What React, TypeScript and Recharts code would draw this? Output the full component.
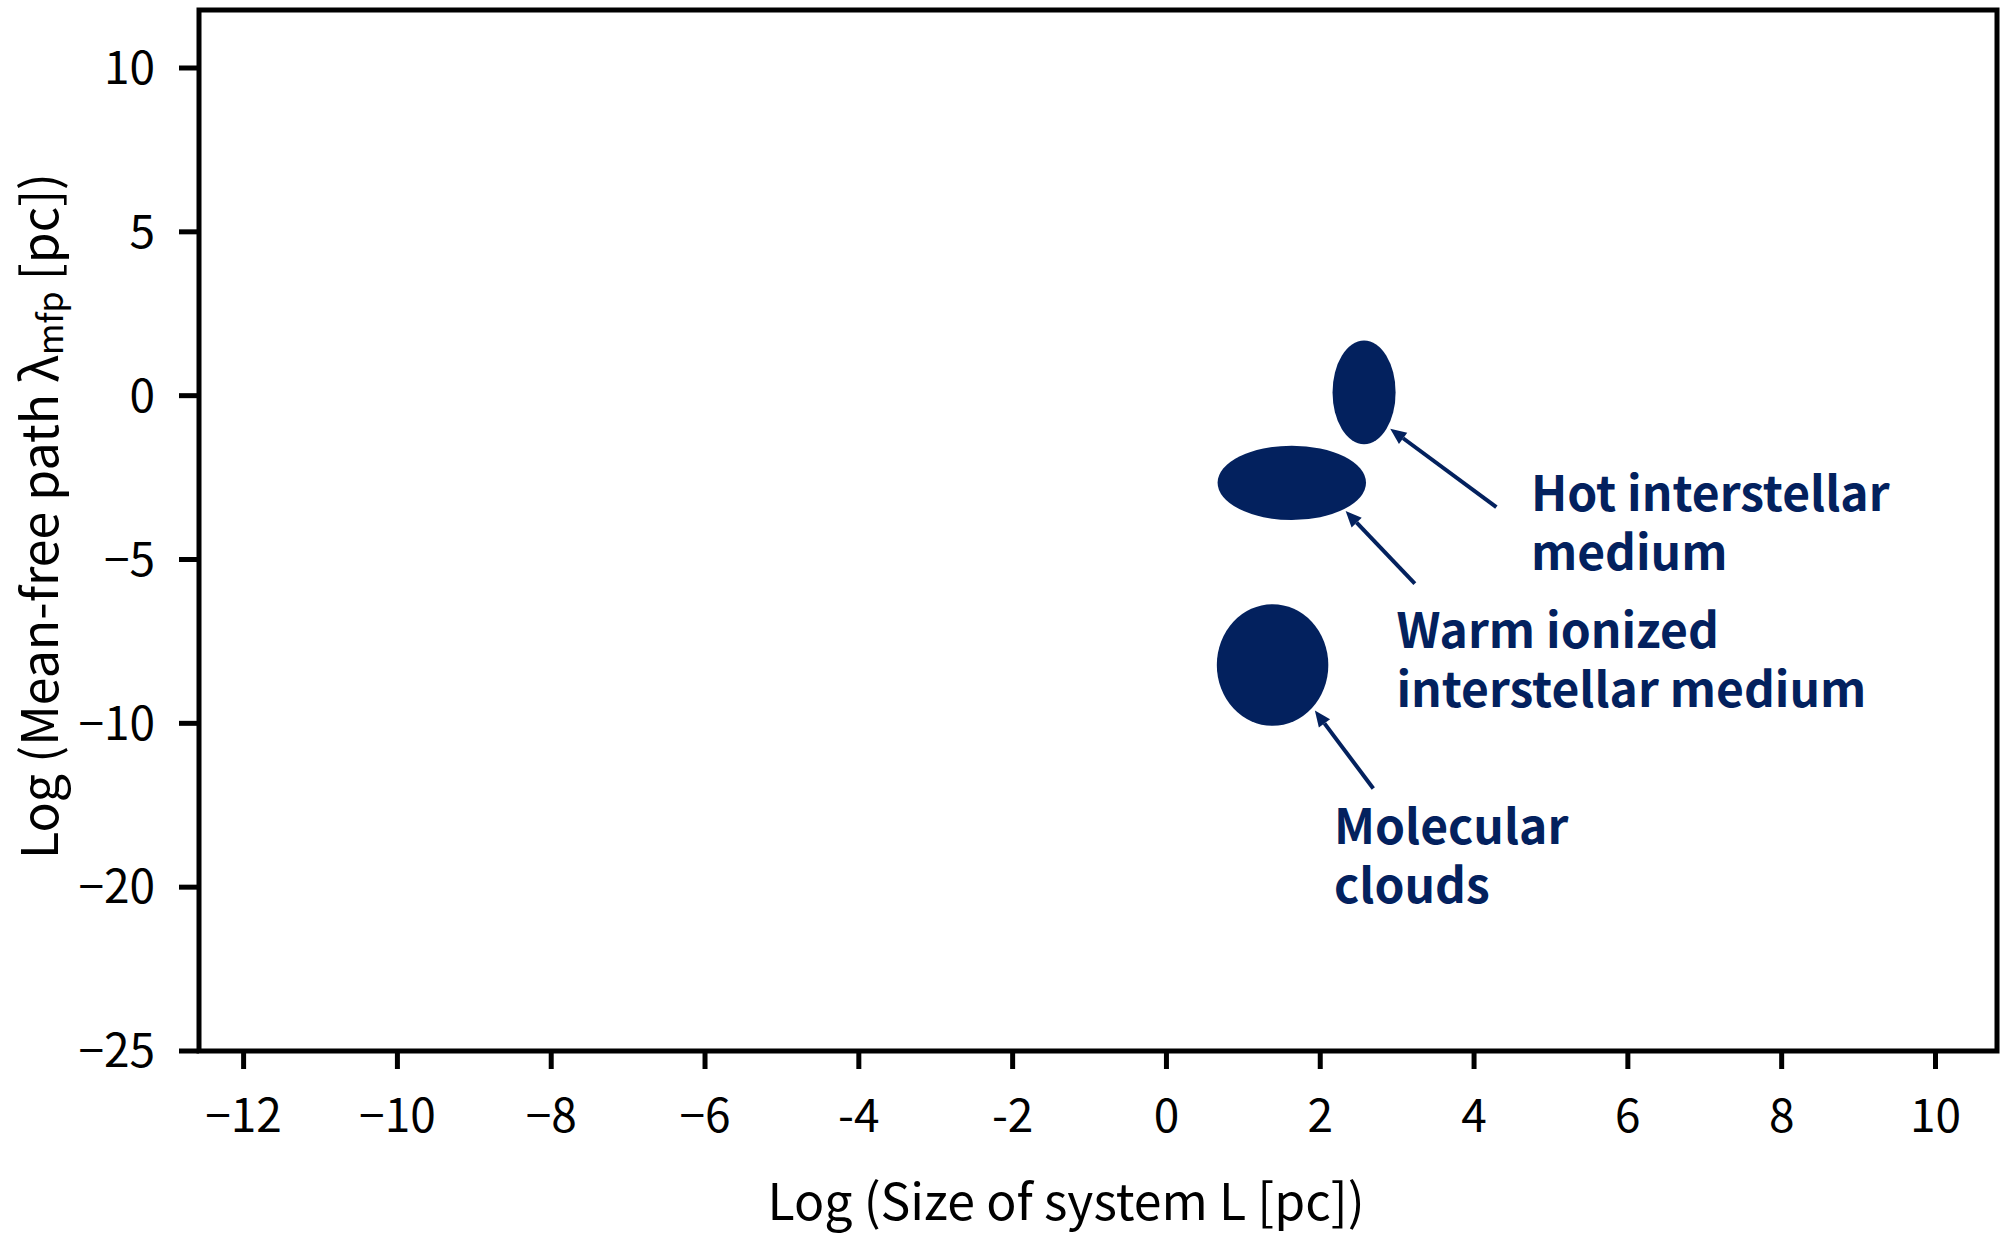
import {
  ScatterChart,
  Scatter,
  XAxis,
  YAxis,
  ReferenceArea,
  ReferenceLine,
  Label,
} from "recharts";

// Mean-free path vs system size for ISM phases
const X_DOMAIN = [-12.58, 10.8];
const Y_DOMAIN = [-20, 11.77];
const X_TICKS = [-12, -10, -8, -6, -4, -2, 0, 2, 4, 6, 8, 10];
const X_TICK_LABELS = ["−12", "−10", "−8", "−6", "-4", "-2", "0", "2", "4", "6", "8", "10"];
// the y axis is evenly spaced but labelled 10 .. -10, -20, -25
const Y_TICKS = [10, 5, 0, -5, -10, -15, -20];
const Y_TICK_LABELS = ["10", "5", "0", "−5", "−10", "−20", "−25"];

const REGIONS = ["Hot interstellar medium", "Warm ionized interstellar medium", "Molecular clouds"];
const REGION_LOG_L = [2.57, 1.63, 1.38];
const REGION_LOG_MFP = [0.1, -2.66, -8.22];
const REGION_L_SPAN = [0.82, 1.93, 1.45];
const REGION_MFP_SPAN = [3.16, 2.27, 3.71];

// arrows: tail -> tip
const ARROW_FROM_X = [4.29, 3.23, 2.69];
const ARROW_FROM_Y = [-3.4, -5.74, -11.99];
const ARROW_TO_X = [2.91, 2.33, 1.93];
const ARROW_TO_Y = [-1.01, -3.52, -9.61];

const LABEL_X = [4.74, 2.99, 2.18];
const LABEL_Y = [-2.89, -7.07, -13.05];
const LABEL_LINES = [
  ["Hot interstellar", "medium"],
  ["Warm ionized", "interstellar medium"],
  ["Molecular", "clouds"],
];

const NAVY = "#03215e";
const FONT = "'Noto Sans CJK KR', 'Noto Sans', sans-serif";

const labelData = REGIONS.map((name, i) => ({
  name,
  x: LABEL_X[i],
  y: LABEL_Y[i],
  lines: LABEL_LINES[i],
}));

function Arrow(props: any) {
  const { x1, y1, x2, y2 } = props;
  const ang = Math.atan2(y2 - y1, x2 - x1);
  const len = 16;
  const half = 7;
  const bx = x2 - len * Math.cos(ang);
  const by = y2 - len * Math.sin(ang);
  const px = -Math.sin(ang) * half;
  const py = Math.cos(ang) * half;
  return (
    <g>
      <line x1={x1} y1={y1} x2={bx} y2={by} stroke={NAVY} strokeWidth={4} />
      <polygon points={`${x2},${y2} ${bx + px},${by + py} ${bx - px},${by - py}`} fill={NAVY} />
    </g>
  );
}

function Blob(props: any) {
  const { x, y, width, height } = props;
  return (
    <ellipse cx={x + width / 2} cy={y + height / 2} rx={Math.abs(width) / 2} ry={Math.abs(height) / 2} fill={NAVY} />
  );
}

function AnnotationText(props: any) {
  const { cx, cy, payload } = props;
  return (
    <text x={cx} y={cy} fill={NAVY} fontFamily={FONT} fontWeight={700} fontSize={48} dominantBaseline="central">
      {payload.lines.map((ln: string, i: number) => (
        <tspan key={i} x={cx} dy={i === 0 ? 0 : 59}>
          {ln}
        </tspan>
      ))}
    </text>
  );
}

export default function App() {
  return (
    <div style={{ width: 2010, height: 1233, background: "#fff" }}>
      <style>{`body{margin:0}`}</style>
      <ScatterChart width={2010} height={1233} margin={{ top: 10, right: 13, left: 0, bottom: 0 }}>
        <XAxis
          type="number"
          dataKey="x"
          domain={X_DOMAIN}
          ticks={X_TICKS}
          tickFormatter={(v: number) => X_TICK_LABELS[X_TICKS.indexOf(v)]}
          height={182}
          axisLine={false}
          tickSize={18}
          tickMargin={30}
          tickLine={{ stroke: "#000", strokeWidth: 5 }}
          tick={{ fill: "#000", fontSize: 46, fontFamily: FONT }}
          allowDataOverflow
        >
          <Label
            content={() => (
              <text x={1066} y={1198} textAnchor="middle" dominantBaseline="central" fill="#000" fontSize={50} fontFamily={FONT}>
                Log (Size of system L [pc])
              </text>
            )}
          />
        </XAxis>
        <YAxis
          type="number"
          dataKey="y"
          domain={Y_DOMAIN}
          ticks={Y_TICKS}
          tickFormatter={(v: number) => Y_TICK_LABELS[Y_TICKS.indexOf(v)]}
          width={199}
          axisLine={false}
          tickSize={20}
          tickMargin={24}
          tickLine={{ stroke: "#000", strokeWidth: 5 }}
          tick={{ fill: "#000", fontSize: 46, fontFamily: FONT }}
          allowDataOverflow
        >
          <Label
            content={() => (
              <text
                x={36}
                y={516}
                transform="rotate(-90 36 516)"
                textAnchor="middle"
                dominantBaseline="central"
                fill="#000"
                fontSize={50}
                fontFamily={FONT}
              >
                Log (Mean-free path λ
                <tspan fontSize={34} dy={12}>mfp</tspan>
                <tspan dy={-12}> [pc])</tspan>
              </text>
            )}
          />
        </YAxis>
        <ReferenceArea
          x1={X_DOMAIN[0]}
          x2={X_DOMAIN[1]}
          y1={Y_DOMAIN[0]}
          y2={Y_DOMAIN[1]}
          fill="none"
          fillOpacity={0}
          stroke="#000"
          strokeWidth={5}
          ifOverflow="visible"
        />
        {REGIONS.map((r, i) => (
          <ReferenceArea
            key={r}
            x1={REGION_LOG_L[i] - REGION_L_SPAN[i] / 2}
            x2={REGION_LOG_L[i] + REGION_L_SPAN[i] / 2}
            y1={REGION_LOG_MFP[i] - REGION_MFP_SPAN[i] / 2}
            y2={REGION_LOG_MFP[i] + REGION_MFP_SPAN[i] / 2}
            shape={Blob}
            ifOverflow="visible"
          />
        ))}
        {REGIONS.map((r, i) => (
          <ReferenceLine
            key={r + "-arrow"}
            segment={[
              { x: ARROW_FROM_X[i], y: ARROW_FROM_Y[i] },
              { x: ARROW_TO_X[i], y: ARROW_TO_Y[i] },
            ]}
            shape={Arrow}
            ifOverflow="visible"
          />
        ))}
        <Scatter data={labelData} shape={AnnotationText} isAnimationActive={false} />
      </ScatterChart>
    </div>
  );
}
